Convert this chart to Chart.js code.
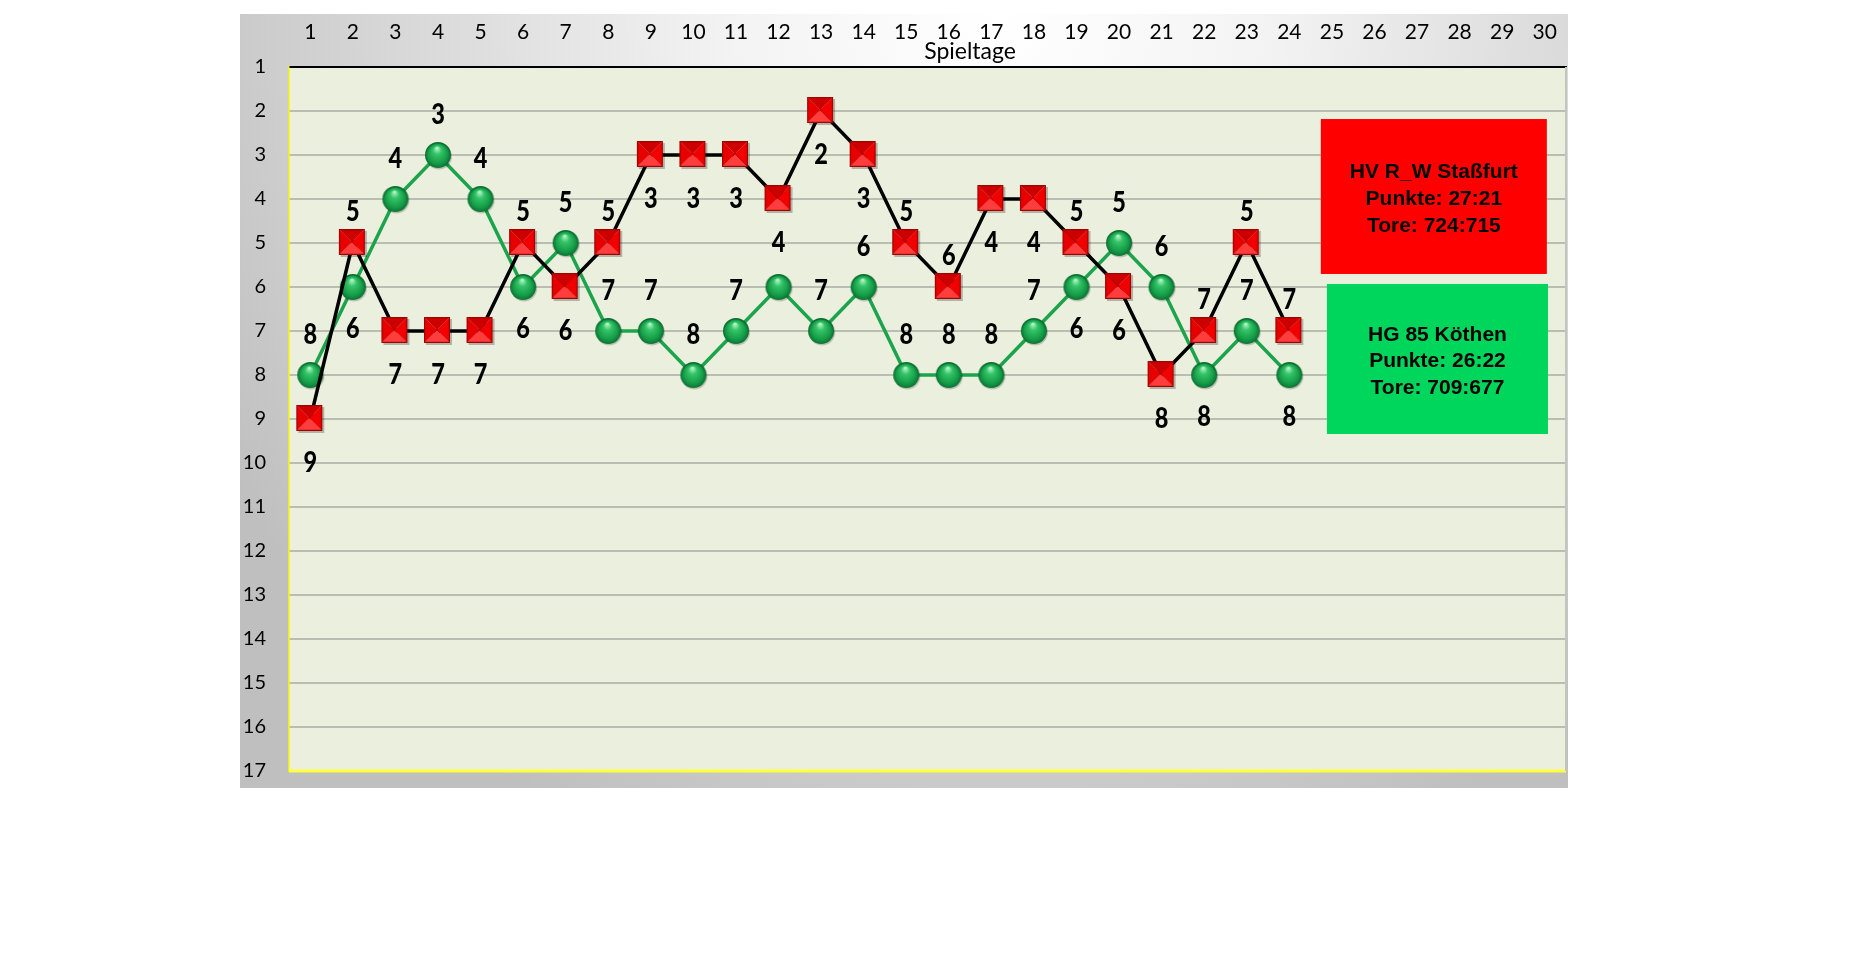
<!DOCTYPE html>
<html><head><meta charset="utf-8">
<script src="https://cdn.jsdelivr.net/npm/chart.js@4.4.1/dist/chart.umd.min.js"></script>
<style>html,body{margin:0;padding:0;background:#fff;overflow:hidden}#wrap{width:1849px;height:963px;position:relative}</style>
</head><body><div id="wrap"><canvas id="c" width="1849" height="963"></canvas></div>
<script>
// ---- data ----
const spieltage = ['1','2','3','4','5','6','7','8','9','10','11','12','13','14','15','16','17','18','19','20','21','22','23','24','25','26','27','28','29','30'];
const platzTicks = [1,2,3,4,5,6,7,8,9,10,11,12,13,14,15,16,17];
const stassfurtName = 'HV R_W Staßfurt';
const koethenName = 'HG 85 Köthen';
const stassfurt = [9,5,7,7,7,5,6,5,3,3,3,4,2,3,5,6,4,4,5,6,8,7,5,7];
const koethen   = [8,6,4,3,4,6,5,7,7,8,7,6,7,6,8,8,8,7,6,5,6,8,7,8];
const stassfurtLabelSide = ['below','above','below','below','below','above','below','above','below','below','below','below','below','below','above','above','below','below','above','below','below','above','above','above'];
const koethenLabelSide   = ['above','below','above','above','above','below','above','above','above','above','above',null,'above','above','above','above','above','above','below','above','above','below','above','below'];
const stassfurtInfo = [stassfurtName, 'Punkte: 27:21', 'Tore: 724:715'];
const koethenInfo   = [koethenName, 'Punkte: 26:22', 'Tore: 709:677'];
const axisTitle = 'Spieltage';

// ---- marker images ----
function makeSquare(size){
  const s=size+4, c=document.createElement('canvas'); c.width=s; c.height=s;
  const g=c.getContext('2d'); const o=1, e=o+size, m=o+size/2;
  g.fillStyle='rgba(0,0,0,0.25)'; g.fillRect(o+2,o+2,size,size);
  const tri=(pts,col)=>{g.beginPath();g.moveTo(pts[0][0],pts[0][1]);for(let i=1;i<pts.length;i++)g.lineTo(pts[i][0],pts[i][1]);g.closePath();g.fillStyle=col;g.fill();};
  tri([[o,o],[e,o],[m,m]],'#cc0000');
  tri([[o,e],[e,e],[m,m]],'#ff3d3d');
  tri([[o,o],[o,e],[m,m]],'#e60000');
  tri([[e,o],[e,e],[m,m]],'#f20000');
  g.strokeStyle='#a00000'; g.lineWidth=1.2; g.strokeRect(o+0.6,o+0.6,size-1.2,size-1.2);
  return c;
}
function makeSphere(d){
  const s=d+4, c=document.createElement('canvas'); c.width=s; c.height=s;
  const g=c.getContext('2d'); const cx=s/2, cy=s/2, r=d/2;
  g.beginPath(); g.arc(cx+1,cy+1.5,r,0,Math.PI*2); g.fillStyle='rgba(0,0,0,0.2)'; g.fill();
  const gr=g.createRadialGradient(cx-1,cy-r*0.55,0.5,cx,cy+1,r);
  gr.addColorStop(0,'#b5f5cc'); gr.addColorStop(0.3,'#34c466'); gr.addColorStop(0.75,'#149a47'); gr.addColorStop(1,'#0a6a2e');
  g.beginPath(); g.arc(cx,cy,r,0,Math.PI*2); g.fillStyle=gr; g.fill();
  return c;
}
const squareImg = makeSquare(26);
const sphereImg = makeSphere(26);

// ---- plugins ----
const panelPlugin = {
  id:'panel',
  beforeDraw(chart){
    const {ctx, chartArea:a} = chart;
    const L=a.left-49, T=a.top-53, R=a.right+2, B=a.bottom+17;
    ctx.save();
    const gr=ctx.createRadialGradient(1000,20,0,1000,20,900);
    gr.addColorStop(0,'#ffffff'); gr.addColorStop(0.3,'#f3f3f3'); gr.addColorStop(1,'#bfbfbf');
    ctx.fillStyle=gr; ctx.fillRect(L,T,R-L,B-T);
    ctx.fillStyle='#EBF0DE'; ctx.fillRect(a.left,a.top,a.right-a.left,a.bottom-a.top);
    ctx.restore();
  },
  afterDatasetsDraw(chart){
    const {ctx, chartArea:a} = chart;
    ctx.save();
    ctx.strokeStyle='#ffff3a'; ctx.lineWidth=3;
    ctx.beginPath(); ctx.moveTo(a.left,a.bottom); ctx.lineTo(a.right,a.bottom); ctx.stroke();
    ctx.strokeStyle='#c4c4bc'; ctx.lineWidth=2;
    ctx.beginPath(); ctx.moveTo(a.right,a.top); ctx.lineTo(a.right,a.bottom); ctx.stroke();
    const W=a.right-a.left, H=a.bottom-a.top;
    const box=(fx0,fy0,fx1,fy1,col,lines)=>{
      const x0=a.left+fx0*W, y0=a.top+fy0*H, x1=a.left+fx1*W, y1=a.top+fy1*H;
      ctx.fillStyle=col; ctx.fillRect(x0,y0,x1-x0,y1-y0);
      ctx.fillStyle='#000'; ctx.font='bold 21px "Liberation Sans", Arial, sans-serif';
      ctx.textAlign='center'; ctx.textBaseline='alphabetic';
      const cx=(x0+x1)/2, cy=(y0+y1)/2+1;
      lines.forEach((t,i)=>ctx.fillText(t,cx,cy+(i-1)*26.8+7.5));
    };
    box(0.808,0.0739,0.985,0.294,'#ff0000',stassfurtInfo);
    box(0.8128,0.3082,0.9859,0.5213,'#00d65c',koethenInfo);
    const drawLabels=(dsIndex,values,sides,offA,offB)=>{
      const meta=chart.getDatasetMeta(dsIndex);
      meta.data.forEach((pt,i)=>{
        const s=sides[i]; if(!s) return;
        const y=pt.y+(s==='above'?offA:offB);
        ctx.save(); ctx.translate(pt.x,y+10); ctx.scale(0.84,1);
        ctx.font='900 28px Lato, "Open Sans", sans-serif';
        ctx.textAlign='center'; ctx.textBaseline='alphabetic'; ctx.fillStyle='#000';
        ctx.fillText(String(values[i]),0,0); ctx.restore();
      });
    };
    drawLabels(1,koethen,koethenLabelSide,-41,41);
    drawLabels(0,stassfurt,stassfurtLabelSide,-32,43);
    const xs=chart.scales.x;
    ctx.font='23px Lato, "Open Sans", sans-serif'; ctx.fillStyle='#000';
    ctx.textAlign='center'; ctx.textBaseline='middle';
    ctx.fillText(axisTitle, xs.getPixelForValue(15.5), a.top-15);
    ctx.restore();
  }
};

new Chart(document.getElementById('c'), {
  type:'line',
  data:{
    labels: spieltage,
    datasets:[
      {label:stassfurtName, data:stassfurt, borderColor:'#000000', borderWidth:3.5, tension:0,
       pointStyle:squareImg, pointRadius:13, pointHoverRadius:13},
      {label:koethenName, data:koethen, borderColor:'#1ba44c', borderWidth:3.5, tension:0,
       pointStyle:sphereImg, pointRadius:13, pointHoverRadius:13}
    ]
  },
  plugins:[panelPlugin],
  options:{
    responsive:false, devicePixelRatio:1, animation:false, events:[],
    layout:{padding:{left:240, top:14, right:283, bottom:192}},
    plugins:{legend:{display:false}, tooltip:{enabled:false}, title:{display:false}},
    scales:{
      x:{
        type:'category', position:'top', offset:true,
        grid:{display:false, drawTicks:false},
        border:{display:true, color:'#000', width:2},
        ticks:{padding:22, color:'#000', font:{family:'Lato, "Open Sans", sans-serif', size:21}, maxRotation:0, autoSkip:false},
        afterFit(s){ s.height=53; }
      },
      y:{
        type:'linear', reverse:true, min:1, max:17,
        afterBuildTicks(s){ s.ticks = platzTicks.map(v=>({value:v})); },
        grid:{drawTicks:false, lineWidth:2,
          color:(c)=> (c.tick && (c.tick.value===1 || c.tick.value===17)) ? 'rgba(0,0,0,0)' : '#babdb1'},
        border:{display:true, color:'#f2f200', width:1.5},
        ticks:{padding:23, color:'#000', font:{family:'Lato, "Open Sans", sans-serif', size:20}, autoSkip:false},
        afterFit(s){ s.width=49; }
      }
    }
  }
});
</script>
</body></html>
